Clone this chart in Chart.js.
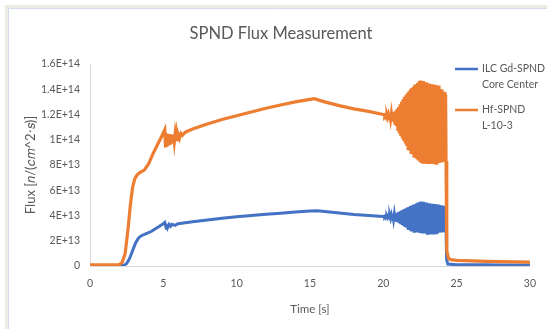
<!DOCTYPE html>
<html>
<head>
<meta charset="utf-8">
<script src="https://cdn.jsdelivr.net/npm/chart.js@4/dist/chart.umd.min.js"></script>
<style>
html,body{margin:0;padding:0;background:#fff;}
#wrap{width:547px;height:329px;position:relative;}
</style>
</head>
<body>
<div id="wrap"><canvas id="c" width="547" height="329"></canvas></div>
<script>
// ---- Data ----
const chartTitle = 'SPND Flux Measurement';
const xTitle = 'Time [s]';
const yTitle = 'Flux [\u{1D45B}/(\u{1D450}\u{1D45A}^2\u22C5\u{1D460})]';
const seriesNames = [['ILC Gd-SPND', 'Core Center'], ['Hf-SPND', 'L-10-3']];
const xTickValues = [0, 5, 10, 15, 20, 25, 30];
const yTickLabels = ['0', '2E+13', '4E+13', '6E+13', '8E+13', '1E+14', '1.2E+14', '1.4E+14', '1.6E+14'];

// Series 1: ILC Gd-SPND Core Center (flux in units of 1E+13)
const gdTime = [0, 1, 2.3, 2.5, 2.7, 2.9, 3.1, 3.3, 3.5, 3.8, 4.2, 4.6, 5.0, 5.1, 5.2, 5.25, 5.3, 5.4, 5.5, 5.6, 5.8, 6.0,
  7, 8, 9, 10, 11, 12, 13, 14, 15, 15.5, 16, 17, 18, 19, 20,
  20.05, 20.10, 20.15, 20.20, 20.25, 20.30, 20.35, 20.40, 20.45, 20.50,
  20.55, 20.60, 20.65, 20.70, 20.75, 20.80, 20.85, 20.90, 20.95, 21.00,
  21.05, 21.10, 21.15, 21.20, 21.25, 21.30, 21.35, 21.40, 21.45, 21.50,
  21.55, 21.60, 21.65, 21.70, 21.75, 21.80, 21.85, 21.90, 21.95, 22.00,
  22.05, 22.10, 22.15, 22.20, 22.25, 22.30, 22.35, 22.40, 22.45, 22.50,
  22.55, 22.60, 22.65, 22.70, 22.75, 22.80, 22.85, 22.90, 22.95, 23.00,
  23.05, 23.10, 23.15, 23.20, 23.25, 23.30, 23.35, 23.40, 23.45, 23.50,
  23.55, 23.60, 23.65, 23.70, 23.75, 23.80, 23.85, 23.90, 23.95, 24.00,
  24.05, 24.10, 24.15, 24.20, 24.25, 24.28,
  24.32, 24.4, 25, 26, 27, 28, 29, 30];
const gdFlux = [0.03, 0.03, 0.03, 0.2, 0.6, 1.2, 1.8, 2.2, 2.4, 2.55, 2.75, 3.05, 3.35, 3.45, 3.0, 3.35, 3.05, 3.3, 3.15, 3.3, 3.22, 3.35,
  3.5, 3.65, 3.78, 3.9, 4.0, 4.1, 4.18, 4.28, 4.36, 4.38, 4.32, 4.2, 4.08, 4.0, 3.93,
  3.95, 3.88, 3.95, 3.86, 3.96, 3.83, 3.97, 3.80, 3.99, 3.77,
  4.02, 3.73, 4.05, 3.68, 4.09, 3.62, 4.14, 3.55, 4.20, 3.48,
  4.26, 3.40, 4.32, 3.32, 4.38, 3.25, 4.44, 3.17, 4.50, 3.10,
  4.56, 3.03, 4.62, 2.97, 4.68, 2.91, 4.74, 2.86, 4.80, 2.81,
  4.85, 2.76, 4.90, 2.72, 4.95, 2.68, 5.00, 2.65, 5.05, 2.62,
  5.10, 2.60, 5.05, 2.58, 5.08, 2.60, 4.98, 2.58, 5.02, 2.60,
  4.92, 2.62, 4.97, 2.61, 4.88, 2.63, 4.93, 2.62, 4.85, 2.64,
  4.90, 2.63, 4.82, 2.65, 4.86, 2.64, 4.78, 2.66, 4.80, 2.65,
  4.74, 2.68, 4.76, 2.70, 4.70, 2.75,
  0.5, 0.15, 0.1, 0.09, 0.09, 0.08, 0.08, 0.08];

// Series 2: Hf-SPND L-10-3 (flux in units of 1E+13)
const hfTime = [0, 1, 2.0, 2.2, 2.4, 2.6, 2.75, 2.9, 3.05, 3.2, 3.4, 3.7, 4.0, 4.3, 4.6, 4.9, 5.1,
  5.15, 5.20, 5.25, 5.30, 5.35, 5.40, 5.45, 5.50, 5.55, 5.60, 5.65, 5.70, 5.75, 5.80, 5.85, 5.90, 5.95, 6.00,
  6.1, 6.2, 6.3, 6.5, 7, 8, 9, 10, 11, 12, 13, 14, 15, 15.3, 16, 17, 18, 19, 20,
  20.05, 20.10, 20.15, 20.20, 20.25, 20.30, 20.35, 20.40, 20.45, 20.50,
  20.55, 20.60, 20.65, 20.70, 20.75, 20.80, 20.85, 20.90, 20.95, 21.00,
  21.05, 21.10, 21.15, 21.20, 21.25, 21.30, 21.35, 21.40, 21.45, 21.50,
  21.55, 21.60, 21.65, 21.70, 21.75, 21.80, 21.85, 21.90, 21.95, 22.00,
  22.05, 22.10, 22.15, 22.20, 22.25, 22.30, 22.35, 22.40, 22.45, 22.50,
  22.55, 22.60, 22.65, 22.70, 22.75, 22.80, 22.85, 22.90, 22.95, 23.00,
  23.05, 23.10, 23.15, 23.20, 23.25, 23.30, 23.35, 23.40, 23.45, 23.50,
  23.55, 23.60, 23.65, 23.70, 23.75, 23.80, 23.85, 23.90, 23.95, 24.00,
  24.05, 24.10, 24.15, 24.20, 24.25, 24.28,
  24.33, 24.45, 24.6, 25, 26, 27, 28, 29, 30];
const hfFlux = [0.1, 0.1, 0.12, 0.3, 1.0, 3.0, 4.8, 6.2, 6.9, 7.2, 7.4, 7.6, 8.1, 8.9, 9.6, 10.3, 10.8,
  9.4, 10.5, 9.45, 10.45, 9.55, 10.45, 9.6, 10.4, 9.7, 10.4, 9.75, 10.4, 9.85, 10.4, 9.9, 10.45, 10.0, 10.45,
  10.1, 10.5, 10.35, 10.6, 10.85, 11.25, 11.6, 11.9, 12.2, 12.5, 12.75, 13.0, 13.2, 13.25, 13.0, 12.7, 12.45, 12.25, 12.0,
  11.98, 11.88, 11.97, 11.83, 11.96, 11.76, 11.98, 11.70, 12.00, 11.62,
  12.05, 11.55, 12.10, 11.45, 12.20, 11.30, 12.30, 11.10, 12.45, 10.70,
  12.6, 10.5, 12.8, 10.3, 13.0, 10.1, 13.2, 9.9, 13.4, 9.7,
  13.55, 9.5, 13.7, 9.3, 13.85, 9.15, 14.0, 9.0, 14.1, 8.85,
  14.2, 8.7, 14.35, 8.6, 14.4, 8.45, 14.5, 8.35, 14.65, 8.25,
  14.7, 8.15, 14.55, 8.1, 14.65, 8.15, 14.4, 8.1, 14.55, 8.2,
  14.3, 8.15, 14.45, 8.2, 14.2, 8.25, 14.4, 8.2, 14.1, 8.25,
  14.35, 8.15, 14.0, 8.2, 14.3, 8.15, 13.9, 8.2, 14.0, 8.2,
  13.7, 8.25, 13.8, 8.3, 13.6, 8.3,
  1.2, 0.6, 0.5, 0.45, 0.4, 0.37, 0.34, 0.32, 0.30];
const fluxUnit = 1e13;

// ---- Chart ----
const FONT = 'Lato, "Open Sans", "DejaVu Sans", sans-serif';
const TXT = '#595959';

const framePlugin = {
  id: 'frame',
  beforeDraw(chart) {
    const ctx = chart.ctx;
    ctx.save();
    ctx.fillStyle = '#ffffff';
    ctx.fillRect(0, 0, chart.width, chart.height);
    ctx.fillStyle = '#eeebe1';
    ctx.fillRect(5, 5, chart.width - 5, 3);
    ctx.fillRect(5, 5, 3, chart.height - 5);
    ctx.strokeStyle = '#d4dced';
    ctx.lineWidth = 1;
    ctx.beginPath();
    ctx.moveTo(8, 8.5); ctx.lineTo(chart.width, 8.5);
    ctx.moveTo(8.5, 8); ctx.lineTo(8.5, chart.height);
    ctx.stroke();
    ctx.fillStyle = TXT;
    ctx.font = '16.5px ' + FONT;
    ctx.textAlign = 'center';
    ctx.textBaseline = 'middle';
    ctx.fillText(chartTitle, 281, 34);
    ctx.restore();
  }
};

const legendPlugin = {
  id: 'sideLegend',
  afterDraw(chart) {
    const ctx = chart.ctx;
    const rows = [69, 110];
    ctx.save();
    chart.data.datasets.forEach((ds, i) => {
      const y = rows[i];
      ctx.strokeStyle = ds.borderColor;
      ctx.lineWidth = 2.5;
      ctx.beginPath();
      ctx.moveTo(455, y); ctx.lineTo(478, y);
      ctx.stroke();
      ctx.fillStyle = TXT;
      ctx.font = '10.5px ' + FONT;
      ctx.textAlign = 'left';
      ctx.textBaseline = 'middle';
      seriesNames[i].forEach((line, j) => ctx.fillText(line, 482, y + j * 16));
    });
    ctx.restore();
  }
};

function pts(xs, ys) { return xs.map((x, i) => ({ x: x, y: ys[i] * fluxUnit })); }

new Chart(document.getElementById('c'), {
  type: 'line',
  data: {
    datasets: [
      { label: seriesNames[0].join(' '), data: pts(gdTime, gdFlux), borderColor: '#4472C4', backgroundColor: '#4472C4',
        borderWidth: 3, pointRadius: 0, tension: 0, order: 1 },
      { label: seriesNames[1].join(' '), data: pts(hfTime, hfFlux), borderColor: '#ED7D31', backgroundColor: '#ED7D31',
        borderWidth: 3.2, pointRadius: 0, tension: 0, order: 0 }
    ]
  },
  options: {
    responsive: false,
    animation: false,
    devicePixelRatio: 1,
    layout: { padding: { left: 8, right: 15, top: 64, bottom: 0 } },
    plugins: {
      legend: { display: false },
      tooltip: { enabled: false },
      title: { display: false }
    },
    scales: {
      x: {
        type: 'linear', min: 0, max: 30,
        afterBuildTicks(scale) { scale.ticks = xTickValues.map(v => ({ value: v })); },
        afterFit(scale) { scale.height = 63; },
        grid: { display: false, drawTicks: false },
        border: { display: true, color: '#d9d9d9', width: 1 },
        ticks: { color: TXT, font: { family: FONT, size: 10.5 }, padding: 11, maxRotation: 0 },
        title: { display: true, text: xTitle, color: TXT, font: { family: FONT, size: 11.5 }, padding: { top: 13, bottom: 13 } }
      },
      y: {
        type: 'linear', min: 0, max: 1.6e14,
        afterBuildTicks(scale) { scale.ticks = yTickLabels.map((t, i) => ({ value: i * 2 * fluxUnit })); },
        afterFit(scale) { scale.width = 82; },
        grid: { display: false, drawTicks: false },
        border: { display: true, color: '#d9d9d9', width: 1 },
        ticks: { color: TXT, font: { family: FONT, size: 10.5 }, padding: 10,
          callback: (v, i) => yTickLabels[i] },
        title: { display: true, text: yTitle, color: TXT, font: { family: FONT, size: 13 }, padding: { top: 15, bottom: 15 } }
      }
    }
  },
  plugins: [framePlugin, legendPlugin]
});
</script>
</body>
</html>
